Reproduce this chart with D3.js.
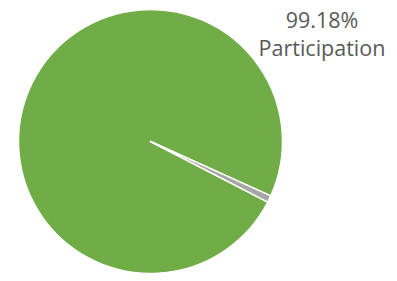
<!DOCTYPE html>
<html><head><meta charset="utf-8">
<script src="https://cdn.jsdelivr.net/npm/d3@7"></script>
<style>html,body{margin:0;padding:0;background:#fff;}</style>
</head><body>
<svg id="c" width="397" height="281"></svg>
<script>
const categories = ["Participation", "Non-participation"];
const values = [99.18, 0.82];
const colors = ["#70AD47", "#A5A5A5"];
const labelLines = ["99.18%", "Participation"];

const svg = d3.select("#c");
const cx = 150.5, cy = 141.5, r = 132;
const startDeg = 117.3;
const pie = d3.pie().sort(null).value(d => d)
  .startAngle(startDeg * Math.PI / 180)
  .endAngle((startDeg + 360) * Math.PI / 180);
const arc = d3.arc().innerRadius(0).outerRadius(r);
const g = svg.append("g").attr("transform", `translate(${cx},${cy})`);
g.selectAll("path").data(pie(values)).join("path")
  .attr("d", arc)
  .attr("fill", (d, i) => colors[i])
  .attr("stroke", "#fff").attr("stroke-width", 1.5).attr("stroke-linejoin", "round");

const t = svg.append("text").attr("font-family", "'Open Sans', 'Noto Sans', sans-serif")
  .attr("font-size", 21.5).attr("fill", "#595959").attr("text-anchor", "middle");
t.append("tspan").attr("x", 322).attr("y", 28).text(labelLines[0]);
t.append("tspan").attr("x", 322).attr("y", 56).text(labelLines[1]);
</script>
</body></html>
